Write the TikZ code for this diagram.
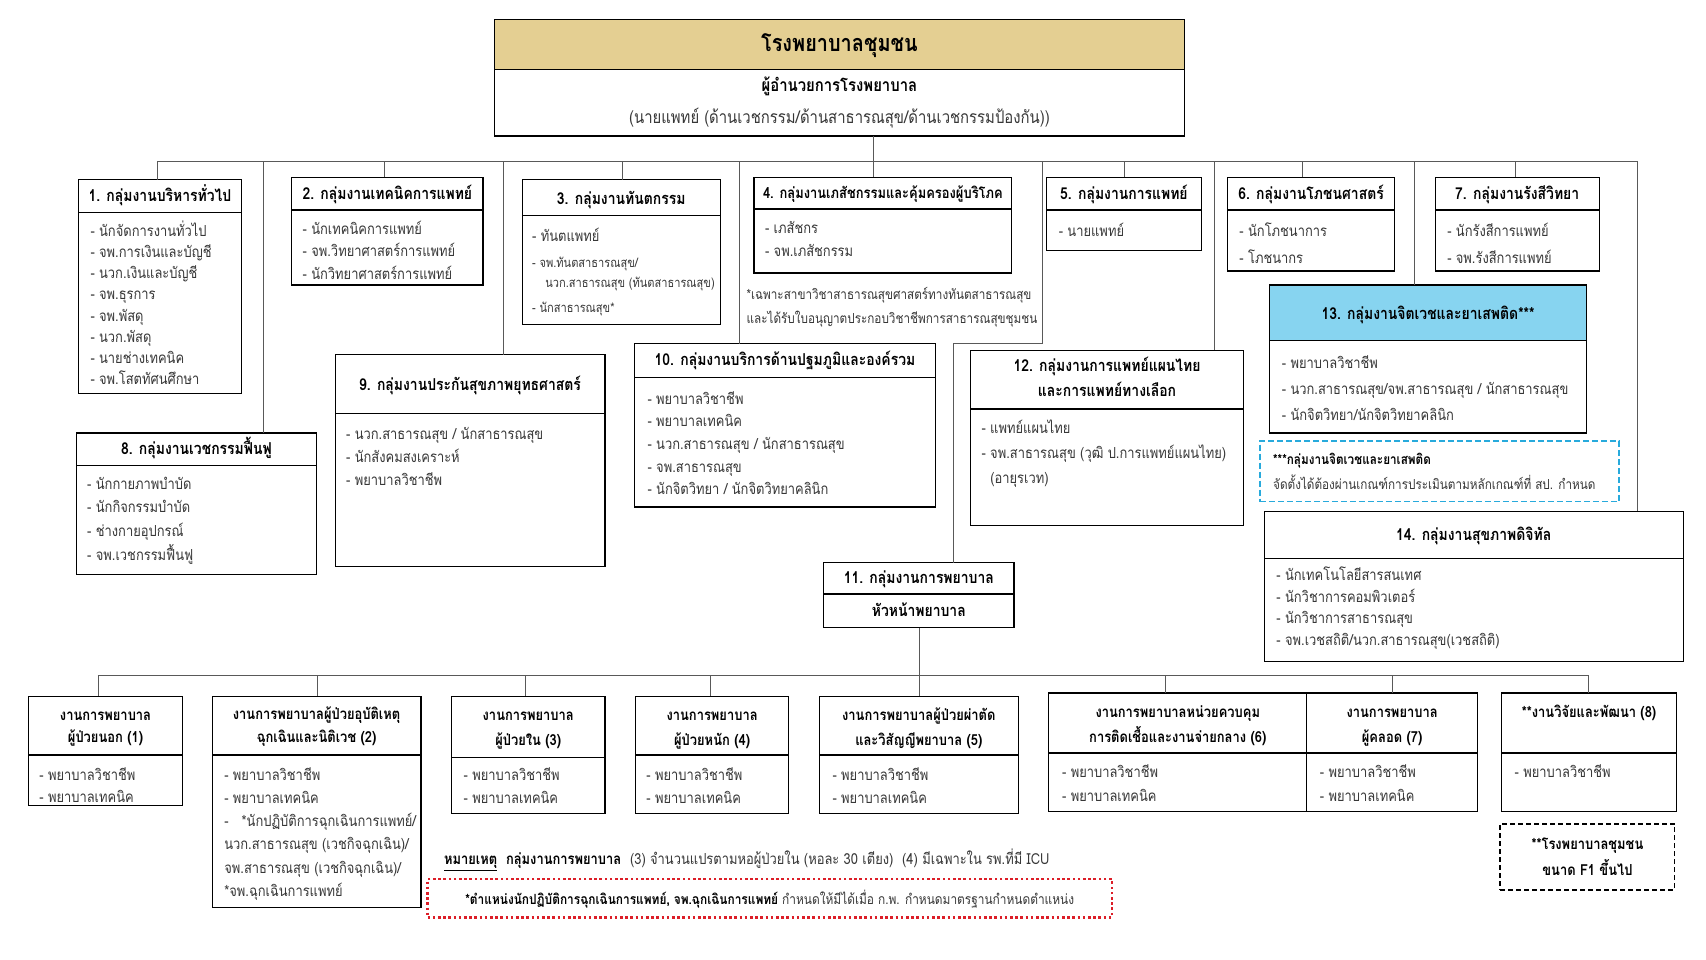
\documentclass[tikz,border=0pt]{standalone}
\usepackage{fontspec}
\setmainfont[Script=Thai, FakeStretch=0.85]{Loma}
\definecolor{gold}{RGB}{228,207,146}
\definecolor{skyc}{RGB}{135,212,240}
\definecolor{dashc}{RGB}{40,170,220}
\definecolor{redd}{RGB}{220,30,40}
\definecolor{txt}{RGB}{55,55,55}
\newcommand\fs[1]{\fontsize{#1}{#1}\selectfont}
\newcommand\gbox[6]{%
  \node[gb, minimum width={(#4-#2)*1.088pt}, minimum height={(#5-#3)*1.088pt}] (#1) at ({(#2+#4)/2},{(#3+#5)/2}) {};
  \draw[line width=1.2pt] (#1.west |- 0,#6) -- (#1.east |- 0,#6);}
\newcommand\lst[5]{%
  \foreach \t [count=\i from 0] in {#5} {\node[it] (#1-\i) at (#2,{#3+\i*#4}) {\t};}}
\begin{document}
\begin{tikzpicture}[x=1.088pt,y=-1.088pt,
  gb/.style={draw=black, line width=1.2pt, inner sep=0pt, outer sep=0pt},
  conn/.style={draw=black!65, line width=0.8pt},
  it/.style={anchor=west, inner sep=0pt, font=\fs{15.2}, text=txt, text height=14pt, text depth=2pt},
  hd/.style={anchor=center, inner sep=0pt, font=\bfseries\fs{16.4}, text height=14pt, text depth=2pt},
  hs/.style={hd, font=\bfseries\fs{15.2}},
]
\fill[white] (0,0) rectangle (1568,882);
\useasboundingbox (0,0) rectangle (1568,882);

% top
\node[gb, fill=gold, minimum width={634*1.088pt}, minimum height={46*1.088pt}] (top) at (771.5,41) {};
\node[gb, minimum width={634*1.088pt}, minimum height={61*1.088pt}] (dir) at (771.5,94.5) {};
\node[hd, font=\bfseries\fs{23.4}, text height=16pt, text depth=2pt] (topt) at (771.5,41) {โรงพยาบาลชุมชน};
\node[hd, font=\bfseries\fs{17.5}] (dirt) at (771.5,79) {ผู้อำนวยการโรงพยาบาล};
\node[hd, font=\fs{17.5}, text=txt] (dirs) at (771.5,108) {(นายแพทย์ (ด้านเวชกรรม/ด้านสาธารณสุข/ด้านเวชกรรมป้องกัน))};

% upper groups
\gbox{b1}{72}{165}{222}{362}{195}
\node[hd] (b1t) at (147,180) {1. กลุ่มงานบริหารทั่วไป};
\lst{b1i}{83}{212}{19.4}{- นักจัดการงานทั่วไป,- จพ.การเงินและบัญชี,- นวก.เงินและบัญชี,- จพ.ธุรการ,- จพ.พัสดุ,- นวก.พัสดุ,- นายช่างเทคนิค,- จพ.โสตทัศนศึกษา}

\gbox{b2}{268}{163}{444}{262}{193}
\node[hd] (b2t) at (356,178) {2. กลุ่มงานเทคนิคการแพทย์};
\lst{b2i}{278}{210}{20.5}{- นักเทคนิคการแพทย์,- จพ.วิทยาศาสตร์การแพทย์,- นักวิทยาศาสตร์การแพทย์}

\gbox{b3}{480}{165}{662}{298}{198}
\node[hd] (b3t) at (571,182) {3. กลุ่มงานทันตกรรม};
\node[it] (b3a) at (489,216) {- ทันตแพทย์};
\node[it, font=\fs{13}] (b3b) at (489,240) {- จพ.ทันตสาธารณสุข/};
\node[it, font=\fs{13}] (b3c) at (501,259) {นวก.สาธารณสุข (ทันตสาธารณสุข)};
\node[it, font=\fs{13}] (b3d) at (489,282) {- นักสาธารณสุข*};

\gbox{b4}{693}{163}{930}{251}{192}
\node[hs] (b4t) at (811.5,177) {4. กลุ่มงานเภสัชกรรมและคุ้มครองผู้บริโภค};
\lst{b4i}{703}{209}{21}{- เภสัชกร,- จพ.เภสัชกรรม}
\node[it, font=\fs{13.8}] (b4n1) at (686,270) {*เฉพาะสาขาวิชาสาธารณสุขศาสตร์ทางทันตสาธารณสุข};
\node[it, font=\fs{13.8}] (b4n2) at (686,292) {และได้รับใบอนุญาตประกอบวิชาชีพการสาธารณสุขชุมชน};

\gbox{b5}{962}{163}{1104}{230}{193}
\node[hd] (b5t) at (1033,178) {5. กลุ่มงานการแพทย์};
\lst{b5i}{973}{212}{20}{- นายแพทย์}

\gbox{b6}{1128}{163}{1282}{249}{193}
\node[hd] (b6t) at (1205,178) {6. กลุ่มงานโภชนศาสตร์};
\lst{b6i}{1139}{212}{25}{- นักโภชนาการ,- โภชนากร}

\gbox{b7}{1319}{163}{1470}{249}{193}
\node[hd] (b7t) at (1394.5,178) {7. กลุ่มงานรังสีวิทยา};
\lst{b7i}{1330}{212}{25}{- นักรังสีการแพทย์,- จพ.รังสีการแพทย์}

\gbox{b8}{70}{398}{291}{528}{428}
\node[hd] (b8t) at (180.5,412) {8. กลุ่มงานเวชกรรมฟื้นฟู};
\lst{b8i}{80}{444}{21.8}{- นักกายภาพบำบัด,- นักกิจกรรมบำบัด,- ช่างกายอุปกรณ์,- จพ.เวชกรรมฟื้นฟู}

\gbox{b9}{308}{326}{556}{521}{380}
\node[hd] (b9t) at (432,353) {9. กลุ่มงานประกันสุขภาพยุทธศาสตร์};
\lst{b9i}{318}{398}{21.5}{- นวก.สาธารณสุข / นักสาธารณสุข,- นักสังคมสงเคราะห์,- พยาบาลวิชาชีพ}

\gbox{b10}{583}{316}{860}{466}{347}
\node[hd] (b10t) at (721.5,330) {10. กลุ่มงานบริการด้านปฐมภูมิและองค์รวม};
\lst{b10i}{595}{366}{20.8}{- พยาบาลวิชาชีพ,- พยาบาลเทคนิค,- นวก.สาธารณสุข / นักสาธารณสุข,- จพ.สาธารณสุข,- นักจิตวิทยา / นักจิตวิทยาคลินิก}

\gbox{b11}{757}{517}{932}{577}{546}
\node[hd] (b11t) at (844.5,531) {11. กลุ่มงานการพยาบาล};
\node[hd] (b11s) at (844.5,561) {หัวหน้าพยาบาล};

\gbox{b12}{892}{322}{1143}{483}{376}
\node[hd] (b12t) at (1017.5,336) {12. กลุ่มงานการแพทย์แผนไทย};
\node[hd] (b12s) at (1017.5,359) {และการแพทย์ทางเลือก};
\lst{b12i}{902}{393}{23}{- แพทย์แผนไทย,- จพ.สาธารณสุข (วุฒิ ป.การแพทย์แผนไทย)}
\node[it] (b12c) at (910,439) {(อายุรเวท)};

\fill[skyc] (1167,262) rectangle (1458,313);
\gbox{b13}{1167}{262}{1458}{398}{313}
\node[hd] (b13t) at (1312.5,288) {13. กลุ่มงานจิตเวชและยาเสพติด***};
\lst{b13i}{1178}{333}{24}{- พยาบาลวิชาชีพ,- นวก.สาธารณสุข/จพ.สาธารณสุข / นักสาธารณสุข,- นักจิตวิทยา/นักจิตวิทยาคลินิก}

\node[draw=dashc, line width=1.8pt, dash pattern=on 6pt off 3pt, minimum width={330*1.088pt}, minimum height={56*1.088pt}, inner sep=0pt] (n13) at (1323,433) {};
\node[it, font=\bfseries\fs{13.8}, text=black] (n13a) at (1170,421) {***กลุ่มงานจิตเวชและยาเสพติด};
\node[it, font=\fs{13.8}] (n13b) at (1170,444) {จัดตั้งได้ต้องผ่านเกณฑ์การประเมินตามหลักเกณฑ์ที่ สป. กำหนด};

\gbox{b14}{1162}{470}{1547}{608}{513}
\node[hd] (b14t) at (1354.5,491) {14. กลุ่มงานสุขภาพดิจิทัล};
\lst{b14i}{1173}{528}{20}{- นักเทคโนโลยีสารสนเทศ,- นักวิชาการคอมพิวเตอร์,- นักวิชาการสาธารณสุข,- จพ.เวชสถิติ/นวก.สาธารณสุข(เวชสถิติ)}

% upper connectors
\coordinate (busL) at (145,148);
\coordinate (busR) at (1505,148);
\draw[conn] (busL) -- (busR);
\draw[conn] (803,0 |- dir.south) -- (803,0 |- b4.north);
\draw[conn] (busL) -- (145,0 |- b1.north);
\draw[conn] (242,148) -- (242,0 |- b8.north);
\draw[conn] (353,148) -- (353,0 |- b2.north);
\draw[conn] (463,148) -- (463,0 |- b9.north);
\draw[conn] (572,148) -- (572,0 |- b3.north);
\draw[conn] (680,148) -- (680,0 |- b10.north);
\draw[conn] (958,148) -- (958,316) -- (876,316) -- (876,0 |- b11.north);
\draw[conn] (1033,148) -- (1033,0 |- b5.north);
\draw[conn] (1116,148) -- (1116,0 |- b12.north);
\draw[conn] (1197,148) -- (1197,0 |- b6.north);
\draw[conn] (1300,148) -- (1300,0 |- b13.north);
\draw[conn] (1393,148) -- (1393,0 |- b7.north);
\draw[conn] (busR) -- (1505,0 |- b14.north);

% nursing units
\gbox{n1}{26}{640}{168}{740}{694}
\node[hs] (n1t) at (97,657) {งานการพยาบาล};
\node[hs] (n1s) at (97,677) {ผู้ป่วยนอก (1)};
\lst{n1i}{36}{712}{20}{- พยาบาลวิชาชีพ,- พยาบาลเทคนิค}

\gbox{n2}{195}{640}{387}{834}{694}
\node[hs] (n2t) at (291,656) {งานการพยาบาลผู้ป่วยอุบัติเหตุ};
\node[hs] (n2s) at (291,677) {ฉุกเฉินและนิติเวช (2)};
\lst{n2i}{206}{712}{21}{- พยาบาลวิชาชีพ,- พยาบาลเทคนิค}
\node[it] (n2c) at (206,754) {-\ \ \ *นักปฏิบัติการฉุกเฉินการแพทย์/};
\node[it] (n2d) at (206,775) {นวก.สาธารณสุข (เวชกิจฉุกเฉิน)/};
\node[it] (n2e) at (206,797) {จพ.สาธารณสุข (เวชกิจฉุกเฉิน)/};
\node[it] (n2f) at (206,818) {*จพ.ฉุกเฉินการแพทย์};

\gbox{n3}{415}{640}{556}{748}{696}
\node[hs] (n3t) at (485.5,657) {งานการพยาบาล};
\node[hs] (n3s) at (485.5,680) {ผู้ป่วยใน (3)};
\lst{n3i}{426}{712}{21}{- พยาบาลวิชาชีพ,- พยาบาลเทคนิค}

\gbox{n4}{584}{640}{725}{748}{694}
\node[hs] (n4t) at (654.5,657) {งานการพยาบาล};
\node[hs] (n4s) at (654.5,680) {ผู้ป่วยหนัก (4)};
\lst{n4i}{594}{712}{21}{- พยาบาลวิชาชีพ,- พยาบาลเทคนิค}

\gbox{n5}{753}{640}{936}{748}{694}
\node[hs] (n5t) at (844.5,657) {งานการพยาบาลผู้ป่วยผ่าตัด};
\node[hs] (n5s) at (844.5,680) {และวิสัญญีพยาบาล (5)};
\lst{n5i}{765}{712}{21}{- พยาบาลวิชาชีพ,- พยาบาลเทคนิค}

\gbox{n6}{964}{637}{1201}{746}{692}
\node[hs] (n6t) at (1082.5,654) {งานการพยาบาลหน่วยควบคุม};
\node[hs] (n6s) at (1082.5,677) {การติดเชื้อและงานจ่ายกลาง (6)};
\lst{n6i}{976}{709}{22}{- พยาบาลวิชาชีพ,- พยาบาลเทคนิค}

\gbox{n7}{1201}{637}{1358}{746}{692}
\node[hs] (n7t) at (1279.5,654) {งานการพยาบาล};
\node[hs] (n7s) at (1279.5,677) {ผู้คลอด (7)};
\lst{n7i}{1213}{709}{22}{- พยาบาลวิชาชีพ,- พยาบาลเทคนิค}

\gbox{n8}{1380}{637}{1541}{746}{692}
\node[hs] (n8t) at (1460.5,654) {**งานวิจัยและพัฒนา (8)};
\lst{n8i}{1392}{709}{22}{- พยาบาลวิชาชีพ}

\node[draw=black, line width=1.8pt, dash pattern=on 5pt off 3pt, minimum width={160*1.088pt}, minimum height={61*1.088pt}, inner sep=0pt] (f1) at (1459,787.5) {};
\node[hs] (f1a) at (1459,775) {**โรงพยาบาลชุมชน};
\node[hs] (f1b) at (1459,799) {ขนาด F1 ขึ้นไป};

% lower connectors
\coordinate (bus2L) at (90,621);
\coordinate (bus2R) at (1460,621);
\draw[conn] (845,0 |- b11.south) -- (845,621);
\draw[conn] (bus2L) -- (bus2R);
\draw[conn] (bus2L) -- (90,0 |- n1.north);
\draw[conn] (292,621) -- (292,0 |- n2.north);
\draw[conn] (483,621) -- (483,0 |- n3.north);
\draw[conn] (653,621) -- (653,0 |- n4.north);
\draw[conn] (845,621) -- (845,0 |- n5.north);
\draw[conn] (1071,621) -- (1071,0 |- n6.north);
\draw[conn] (1280,621) -- (1280,0 |- n7.north);
\draw[conn] (bus2R) -- (1460,0 |- n8.north);

% notes
\node[it, text=black] (note1) at (408,789) {\textbf{\underline{หมายเหตุ}}\ \ \textbf{กลุ่มงานการพยาบาล}\ \ {\color{txt}(3) จำนวนแปรตามหอผู้ป่วยใน (หอละ 30 เตียง)\ \ (4) มีเฉพาะใน รพ.ที่มี ICU}};
\node[draw=redd, line width=2.6pt, dash pattern=on 2.6pt off 2.6pt, minimum width={629*1.088pt}, minimum height={35*1.088pt}, inner sep=0pt] (rnote) at (707.5,825.5) {};
\node[hd, font=\fs{14}] (rnotet) at (707.5,826) {\textbf{*ตำแหน่งนักปฏิบัติการฉุกเฉินการแพทย์, จพ.ฉุกเฉินการแพทย์} {\color{txt}กำหนดให้มีได้เมื่อ ก.พ. กำหนดมาตรฐานกำหนดตำแหน่ง}};
\end{tikzpicture}
\end{document}
